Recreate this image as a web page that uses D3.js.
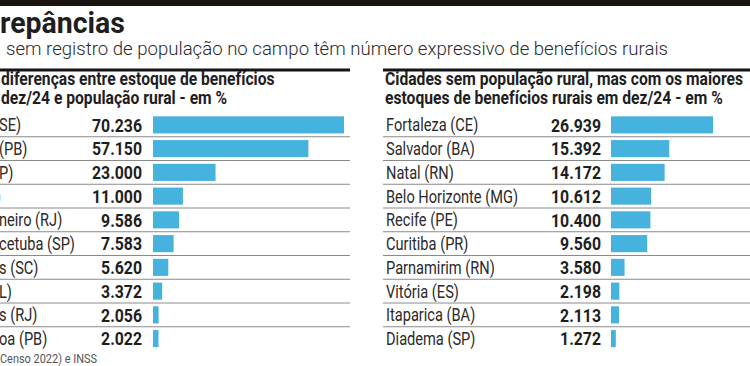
<!DOCTYPE html>
<html><head><meta charset="utf-8">
<script src="https://cdn.jsdelivr.net/npm/d3@7/dist/d3.min.js"></script>
<style>
html,body{margin:0;padding:0;background:#fff;overflow:hidden}
svg{display:block}
text{font-family:Roboto,"Noto Sans",sans-serif;fill:#1e1e1e}
</style></head>
<body>
<script>
// ---- data ----
const title = "repâncias";
const subtitle = "sem registro de população no campo têm número expressivo de benefícios rurais";
const leftHeader = ["diferenças entre estoque de benefícios", "dez/24 e população rural - em %"];
const rightHeader = ["Cidades sem população rural, mas com os maiores", "estoques de benefícios rurais em dez/24 - em %"];
const leftLabels = ["SE)", "(PB)", "P)", ")", "neiro (RJ)", "cetuba (SP)", "s (SC)", "L)", "s (RJ)", "oa (PB)"];
const leftValues = [70236, 57150, 23000, 11000, 9586, 7583, 5620, 3372, 2056, 2022];
const rightLabels = ["Fortaleza (CE)", "Salvador (BA)", "Natal (RN)", "Belo Horizonte (MG)", "Recife (PE)", "Curitiba (PR)", "Parnamirim (RN)", "Vitória (ES)", "Itaparica (BA)", "Diadema (SP)"];
const rightValues = [26939, 15392, 14172, 10612, 10400, 9560, 3580, 2198, 2113, 1272];
const source = "Censo 2022) e INSS";

// ---- layout ----
const W = 750, H = 366;
const svg = d3.select("body").append("svg").attr("width", W).attr("height", H);
const fmt = d3.formatLocale({decimal: ",", thousands: ".", grouping: [3], currency: ["R$", ""]}).format(",d");

// condense text horizontally by a factor derived from a reference string width
function condense(sel, factor) {
  sel.each(function () {
    const w = this.getComputedTextLength();
    d3.select(this).attr("textLength", w * factor).attr("lengthAdjust", "spacingAndGlyphs");
  });
}
function factorFor(str, size, weight, target) {
  const t = svg.append("text").attr("font-size", size).attr("font-weight", weight).text(str);
  const w = t.node().getComputedTextLength();
  t.remove();
  return target / w;
}

svg.append("rect").attr("x", 0).attr("y", 0).attr("width", W).attr("height", 6).attr("fill", "#1c130e");

const tt = svg.append("text").attr("x", 0).attr("y", 33).attr("font-size", 30).attr("font-weight", 700).text(title);
condense(tt, factorFor(title, 30, 700, 125));
const st = svg.append("text").attr("x", 6).attr("y", 55).attr("font-size", 19).attr("font-weight", 300)
  .style("fill", "#2a2a2a").text(subtitle);
condense(st, factorFor(subtitle, 19, 300, 662));

const rowsY = d3.scaleBand().domain(d3.range(10)).range([113, 350.5]).paddingInner(0.28).paddingOuter(0.14);
const rowLines = d3.scaleBand().domain(d3.range(10)).range([113, 350.5]);

const headF = factorFor(rightHeader[0], 17.5, 700, 358);
const labF = factorFor("Belo Horizonte (MG)", 18, 400, 132);
const valF = factorFor("70.236", 19, 700, 50);

function panel(cfg) {
  const g = svg.append("g");
  g.append("rect").attr("x", cfg.ruleX0).attr("y", 68.5).attr("width", cfg.ruleX1 - cfg.ruleX0).attr("height", 3).attr("fill", "#141414");
  const h = g.selectAll("text.head").data(cfg.header).join("text")
    .attr("x", cfg.headX).attr("y", (d, i) => 84.5 + i * 19.5).attr("font-size", 17.5).attr("font-weight", 700).text(d => d);
  condense(h, headF);
  const x = d3.scaleLinear().domain([0, d3.max(cfg.values)]).range([0, cfg.barW]);
  g.selectAll("line.sep").data(d3.range(9)).join("line")
    .attr("x1", cfg.ruleX0).attr("x2", cfg.ruleX1)
    .attr("y1", d => rowLines(d) + rowLines.bandwidth()).attr("y2", d => rowLines(d) + rowLines.bandwidth())
    .attr("stroke", "#8a8a8a").attr("stroke-width", 1);
  g.selectAll("rect.bar").data(cfg.values).join("rect")
    .attr("x", cfg.barX).attr("y", (d, i) => rowsY(i))
    .attr("width", d => x(d)).attr("height", rowsY.bandwidth())
    .attr("fill", "#46b2de");
  const v = g.selectAll("text.val").data(cfg.values).join("text")
    .attr("x", cfg.valX).attr("y", (d, i) => rowLines(i) + rowLines.bandwidth() / 2 + 6.8)
    .attr("text-anchor", "end").attr("font-size", 19).attr("font-weight", 700)
    .text(d => fmt(d));
  condense(v, valF);
  const l = g.selectAll("text.lab").data(cfg.labels).join("text")
    .attr("x", (d, i) => cfg.labX[i]).attr("y", (d, i) => rowLines(i) + rowLines.bandwidth() / 2 + 6.5)
    .attr("font-size", 18).style("fill", "#2a2a2a")
    .text(d => d);
  condense(l, labF);
}

panel({header: leftHeader, headX: 1, ruleX0: 0, ruleX1: 350, values: leftValues, labels: leftLabels,
  labX: [-1, -1, -1, -4, -1, -1, -1, -1, -1, -1], valX: 142, barX: 153, barW: 191});
panel({header: rightHeader, headX: 385, ruleX0: 383, ruleX1: 750, values: rightValues, labels: rightLabels,
  labX: d3.range(10).map(() => 386), valX: 601, barX: 611, barW: 102});

const so = svg.append("text").attr("x", 0).attr("y", 363).attr("font-size", 12.5).style("fill", "#555").text(source);
condense(so, factorFor(source, 12.5, 400, 97));
</script>
</body></html>
